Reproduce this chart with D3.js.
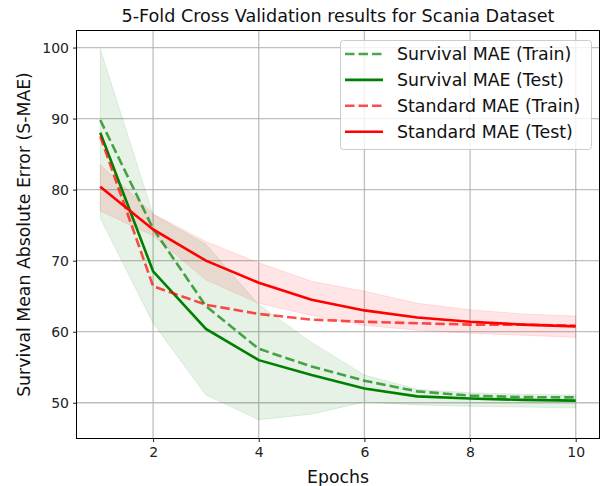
<!DOCTYPE html>
<html><head><meta charset="utf-8">
<script src="https://cdn.jsdelivr.net/npm/d3@7"></script>
<style>body{margin:0;background:#fff}svg{display:block;font-family:"DejaVu Sans",sans-serif}</style>
</head><body>
<svg id="c" width="603" height="486"></svg>
<script>
const epochs = [1,2,3,4,5,6,7,8,9,10];
const survivalTrain = [89.8,74.5,63.6,57.6,55.1,53.1,51.6,51.0,50.8,50.75];
const survivalTest  = [88.0,68.5,60.4,56.0,53.9,52.0,50.9,50.6,50.4,50.3];
const standardTrain = [87.5,66.4,63.8,62.5,61.7,61.4,61.2,61.0,61.0,60.85];
const standardTest  = [80.4,74.4,70.0,66.9,64.5,63.0,62.0,61.4,61.0,60.75];
const survivalUpper = [99.8,76.5,72.3,63.8,58.5,53.9,51.9,51.4,51.2,51.1];
const survivalLower = [76.0,61.2,51.1,47.6,48.4,50.1,49.7,49.5,49.4,49.25];
const standardUpper = [83.5,76.6,72.7,69.7,67.1,65.7,64.0,63.1,62.5,62.2];
const standardLower = [77.0,73.5,67.3,64.0,62.3,60.9,60.2,59.8,59.5,59.2];
const xTicks = [2,4,6,8,10];
const yTicks = [50,60,70,80,90,100];
const labels = ["Survival MAE (Train)","Survival MAE (Test)","Standard MAE (Train)","Standard MAE (Test)"];

const L=76.5, R=599.5, T=30.5, B=438.5;
const svg = d3.select("#c");
const x = d3.scaleLinear().domain([0.55,10.45]).range([L,R]);
const y = d3.scaleLinear().domain([44.97,102.4]).range([B,T]);

// grid
svg.append("g").selectAll("line").data(xTicks).join("line")
  .attr("x1",d=>x(d)).attr("x2",d=>x(d)).attr("y1",T).attr("y2",B)
  .attr("stroke","#b0b0b0").attr("stroke-width",1.3).attr("opacity",0.8);
svg.append("g").selectAll("line").data(yTicks).join("line")
  .attr("y1",d=>y(d)).attr("y2",d=>y(d)).attr("x1",L).attr("x2",R)
  .attr("stroke","#b0b0b0").attr("stroke-width",1.3).attr("opacity",0.8);

const area = (up,lo)=>d3.area().x((d,i)=>x(epochs[i])).y0((d,i)=>y(lo[i])).y1((d,i)=>y(up[i]))(epochs);
svg.append("path").attr("d",area(survivalUpper,survivalLower))
  .attr("fill","#008000").attr("fill-opacity",0.1).attr("stroke","#008000").attr("stroke-opacity",0.1).attr("stroke-width",1);
svg.append("path").attr("d",area(standardUpper,standardLower))
  .attr("fill","#ff0000").attr("fill-opacity",0.1).attr("stroke","#ff0000").attr("stroke-opacity",0.1).attr("stroke-width",1);

const line = d3.line().x((d,i)=>x(epochs[i])).y(d=>y(d));
const series = [
  {v:survivalTrain,c:"#008000",o:0.7,dash:"9.5,4"},
  {v:survivalTest,c:"#008000",o:1,dash:null},
  {v:standardTrain,c:"#ff0000",o:0.7,dash:"9.5,4"},
  {v:standardTest,c:"#ff0000",o:1,dash:null}
];
series.forEach(s=>{
  svg.append("path").attr("d",line(s.v)).attr("fill","none")
    .attr("stroke",s.c).attr("stroke-opacity",s.o).attr("stroke-width",2.6)
    .attr("stroke-dasharray",s.dash);
});

// axes
const xa = svg.append("g").attr("transform",`translate(0,${B})`)
  .call(d3.axisBottom(x).tickValues(xTicks).tickSize(3.5).tickPadding(5));
const ya = svg.append("g").attr("transform",`translate(${L},0)`)
  .call(d3.axisLeft(y).tickValues(yTicks).tickSize(3.5).tickPadding(4));
[xa,ya].forEach(a=>{
  a.select(".domain").remove();
  a.selectAll("text").attr("font-size",14).attr("fill","#222").attr("font-family","DejaVu Sans");
  a.selectAll("line").attr("stroke","#222").attr("stroke-width",1);
});
svg.append("rect").attr("x",L).attr("y",T).attr("width",R-L).attr("height",B-T)
  .attr("fill","none").attr("stroke","#000").attr("stroke-width",1);

svg.append("text").attr("x",(L+R)/2).attr("y",22).attr("text-anchor","middle")
  .attr("font-size",17.6).attr("fill","#111").text("5-Fold Cross Validation results for Scania Dataset");
svg.append("text").attr("x",(L+R)/2).attr("y",483).attr("text-anchor","middle")
  .attr("font-size",17.3).attr("fill","#111").text("Epochs");
svg.append("text").attr("transform",`translate(30,${(T+B)/2}) rotate(-90)`).attr("text-anchor","middle")
  .attr("font-size",17.3).attr("fill","#111").text("Survival Mean Absolute Error (S-MAE)");

// legend
const lg = svg.append("g");
lg.append("rect").attr("x",340.5).attr("y",40.5).attr("width",251).attr("height",109).attr("rx",3)
  .attr("fill","#fff").attr("fill-opacity",0.8).attr("stroke","#ccc").attr("stroke-width",1);
series.forEach((s,i)=>{
  const cy = 54 + i*25.9;
  lg.append("line").attr("x1",345).attr("x2",383).attr("y1",cy).attr("y2",cy)
    .attr("stroke",s.c).attr("stroke-opacity",s.o).attr("stroke-width",2.6).attr("stroke-dasharray",s.dash);
  lg.append("text").attr("x",397).attr("y",cy+6).attr("font-size",17.4).attr("fill","#111").text(labels[i]);
});
</script>
</body></html>
